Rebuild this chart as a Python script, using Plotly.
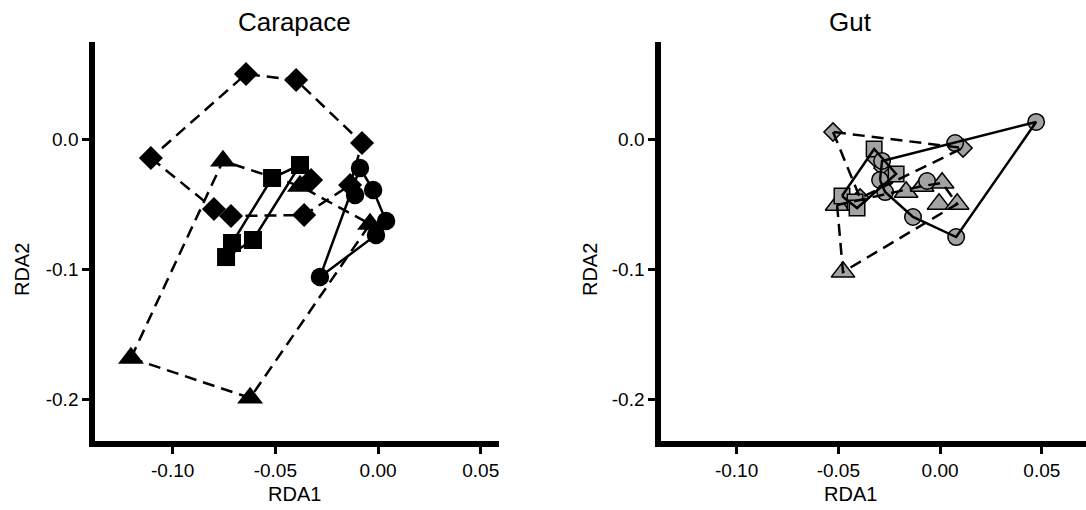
import plotly.graph_objects as go

# ---------------- data (RDA1, RDA2) ----------------
# Carapace
car_diamond_x = [-0.1106, -0.0643, -0.0399, -0.0078, -0.0799, -0.0716, -0.0360, -0.0326, -0.0136]
car_diamond_y = [-0.0146, 0.0500, 0.0454, -0.0031, -0.0538, -0.0592, -0.0585, -0.0315, -0.0354]
car_triangle_x = [-0.1203, -0.0755, -0.0380, -0.0039, -0.0623]
car_triangle_y = [-0.1685, -0.0169, -0.0362, -0.0654, -0.1992]
car_square_x = [-0.0740, -0.0711, -0.0609, -0.0516, -0.0380]
car_square_y = [-0.0908, -0.0800, -0.0777, -0.0300, -0.0200]
car_circle_x = [-0.0283, -0.0088, -0.0024, -0.0112, 0.0039, -0.0010]
car_circle_y = [-0.1062, -0.0223, -0.0392, -0.0431, -0.0631, -0.0738]

# Gut
gut_diamond_x = [-0.0526, 0.0113, -0.0314, -0.0280, -0.0246, -0.0393]
gut_diamond_y = [0.0054, -0.0069, -0.0154, -0.0223, -0.0285, -0.0454]
gut_square_x = [-0.0324, -0.0216, -0.0482, -0.0418, -0.0408]
gut_square_y = [-0.0077, -0.0269, -0.0438, -0.0485, -0.0531]
gut_circle_x = [0.0472, 0.0074, -0.0285, -0.0295, -0.0270, -0.0064, -0.0133, 0.0079]
gut_circle_y = [0.0131, -0.0031, -0.0169, -0.0315, -0.0408, -0.0323, -0.0600, -0.0754]
gut_triangle_x = [-0.0506, -0.0477, -0.0167, -0.0088, 0.0010, -0.0005, 0.0084]
gut_triangle_y = [-0.0508, -0.1023, -0.0408, -0.0362, -0.0338, -0.0500, -0.0500]

x_tickvals = [-0.10, -0.05, 0.00, 0.05]
x_ticktext = ["-0.10", "-0.05", "0.00", "0.05"]
y_tickvals = [-0.2, -0.1, 0.0]
y_ticktext = ["-0.2", "-0.1", "0.0"]


def hull(xs, ys):
    pts = sorted(set(zip(xs, ys)))
    if len(pts) < 3:
        return pts

    def cross(o, a, b):
        return (a[0] - o[0]) * (b[1] - o[1]) - (a[1] - o[1]) * (b[0] - o[0])

    lower, upper = [], []
    for p in pts:
        while len(lower) >= 2 and cross(lower[-2], lower[-1], p) <= 0:
            lower.pop()
        lower.append(p)
    for p in reversed(pts):
        while len(upper) >= 2 and cross(upper[-2], upper[-1], p) <= 0:
            upper.pop()
        upper.append(p)
    h = lower[:-1] + upper[:-1]
    return h + [h[0]]


FONT = "Liberation Sans, Arial, Helvetica, sans-serif"
fig = go.Figure()

GREY = "#a3a3a3"
panels = [
    ("x", "y", [
        (car_diamond_x, car_diamond_y, "diamond", 18.5, "dash", "black", 0),
        (car_triangle_x, car_triangle_y, "triangle-up", 22.5, "dash", "black", 0),
        (car_square_x, car_square_y, "square", 18, "solid", "black", 0),
        (car_circle_x, car_circle_y, "circle", 18.5, "solid", "black", 0),
    ]),
    ("x2", "y2", [
        (gut_diamond_x, gut_diamond_y, "diamond", 14, "dash", GREY, 1.5),
        (gut_triangle_x, gut_triangle_y, "triangle-up", 20.5, "dash", GREY, 1.5),
        (gut_square_x, gut_square_y, "square", 15.5, "solid", GREY, 1.5),
        (gut_circle_x, gut_circle_y, "circle", 16.5, "solid", GREY, 1.5),
    ]),
]

for xa, ya, groups in panels:
    for gx, gy, sym, sz, dash, col, lw in groups:
        fig.add_trace(go.Scatter(
            x=gx, y=gy, mode="markers", xaxis=xa, yaxis=ya, showlegend=False,
            marker=dict(symbol=sym, size=sz, color=col,
                        line=dict(color="black", width=lw)),
        ))
    for gx, gy, sym, sz, dash, col, lw in groups:
        h = hull(gx, gy)
        fig.add_trace(go.Scatter(
            x=[p[0] for p in h], y=[p[1] for p in h], mode="lines",
            xaxis=xa, yaxis=ya, showlegend=False,
            line=dict(color="black", width=2.5,
                      dash="12px,7px" if dash == "dash" else "solid"),
        ))

axis_common = dict(
    showline=True, linecolor="black", linewidth=5.5, showgrid=False,
    zeroline=False, ticks="outside", ticklen=7, tickwidth=2.5,
    tickcolor="black", tickfont=dict(family=FONT, size=19, color="black"),
)

fig.update_layout(
    width=1086, height=510, margin=dict(l=0, r=0, t=0, b=0),
    paper_bgcolor="white", plot_bgcolor="white",
    xaxis=dict(domain=[0.0875, 0.4595], range=[-0.1378, 0.0589], anchor="y",
               tickvals=x_tickvals, ticktext=x_ticktext, **axis_common),
    yaxis=dict(domain=[0.1353, 0.9176], range=[-0.2323, 0.0746], anchor="x",
               tickvals=y_tickvals, ticktext=y_ticktext, **axis_common),
    xaxis2=dict(domain=[0.6087, 1.0], range=[-0.1371, 0.0717], anchor="y2",
                tickvals=x_tickvals, ticktext=x_ticktext, **axis_common),
    yaxis2=dict(domain=[0.1353, 0.9176], range=[-0.2323, 0.0746], anchor="x2",
                tickvals=y_tickvals, ticktext=y_ticktext, **axis_common),
    font=dict(family=FONT, color="black"),
)

annots = [
    dict(text="Carapace", x=0.2716, y=0.9569, size=26, angle=0),
    dict(text="Gut", x=0.7836, y=0.9569, size=26, angle=0),
    dict(text="RDA1", x=0.2716, y=0.0314, size=20, angle=0),
    dict(text="RDA1", x=0.7836, y=0.0314, size=20, angle=0),
    dict(text="RDA2", x=0.0203, y=0.4706, size=20, angle=-90),
    dict(text="RDA2", x=0.5433, y=0.4706, size=20, angle=-90),
]
for a in annots:
    fig.add_annotation(text=a["text"], x=a["x"], y=a["y"], xref="paper", yref="paper",
                       xanchor="center", yanchor="middle", showarrow=False,
                       textangle=a["angle"], font=dict(family=FONT, size=a["size"], color="black"))

fig.write_html("out.html")
